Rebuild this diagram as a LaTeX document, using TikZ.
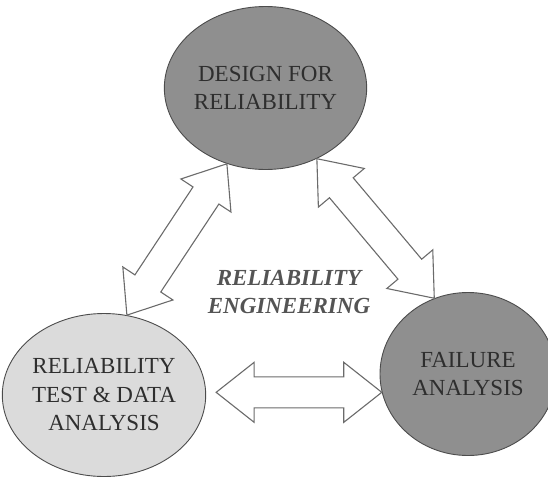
\documentclass[tikz,border=0pt]{standalone}
\usepackage{fontspec}
\setmainfont{Liberation Serif}
\usetikzlibrary{shapes.geometric,calc}

\definecolor{darkfill}{gray}{0.56}
\definecolor{lightfill}{gray}{0.86}
\definecolor{rimgray}{gray}{0.30}
\definecolor{arrowgray}{gray}{0.42}
\definecolor{inkgray}{gray}{0.18}
\definecolor{titlegray}{gray}{0.33}

% hollow double arrow from #1 to #2
\newcommand{\twoway}[2]{%
	\filldraw[twoarrow] (#1)
		-- ($(#1)!38pt!(#2)!30pt!90:(#2)$)
		-- ($(#1)!38pt!(#2)!15.5pt!90:(#2)$)
		-- ($(#2)!38pt!(#1)!15.5pt!-90:(#1)$)
		-- ($(#2)!38pt!(#1)!30pt!-90:(#1)$)
		-- (#2)
		-- ($(#2)!38pt!(#1)!30pt!90:(#1)$)
		-- ($(#2)!38pt!(#1)!15.5pt!90:(#1)$)
		-- ($(#1)!38pt!(#2)!15.5pt!-90:(#2)$)
		-- ($(#1)!38pt!(#2)!30pt!-90:(#2)$)
		-- cycle;}

\begin{document}
\begin{tikzpicture}[x=1pt, y=-1pt,
	blob/.style={ellipse, draw=rimgray, line width=0.9pt, minimum width=176pt, minimum height=163pt,
		inner sep=0pt, align=center, text=inkgray, font=\fontsize{23}{28.5}\selectfont},
	twoarrow/.style={draw=arrowgray, fill=white, line width=1.1pt, line join=miter}]
	\useasboundingbox (0,0) rectangle (548,479);

	\node[blob, fill=darkfill] (design) at (265.5,88) {DESIGN FOR\\RELIABILITY};
	\node[blob, fill=lightfill] (test) at (104,395) {RELIABILITY\\TEST \& DATA\\ANALYSIS};
	\node[blob, fill=darkfill] (failure) at (468,374) {FAILURE\\ANALYSIS};

	\node[align=center, text=titlegray, font=\fontsize{23}{28.5}\selectfont\bfseries\itshape] (title) at (289,292) {RELIABILITY\\ENGINEERING};

	\coordinate (gap) at ([xshift=10pt]test.east |- failure.192);

	\twoway{design.243}{test.74}
	\twoway{design.306}{failure.114}
	\twoway{gap}{failure.192}
\end{tikzpicture}
\end{document}
